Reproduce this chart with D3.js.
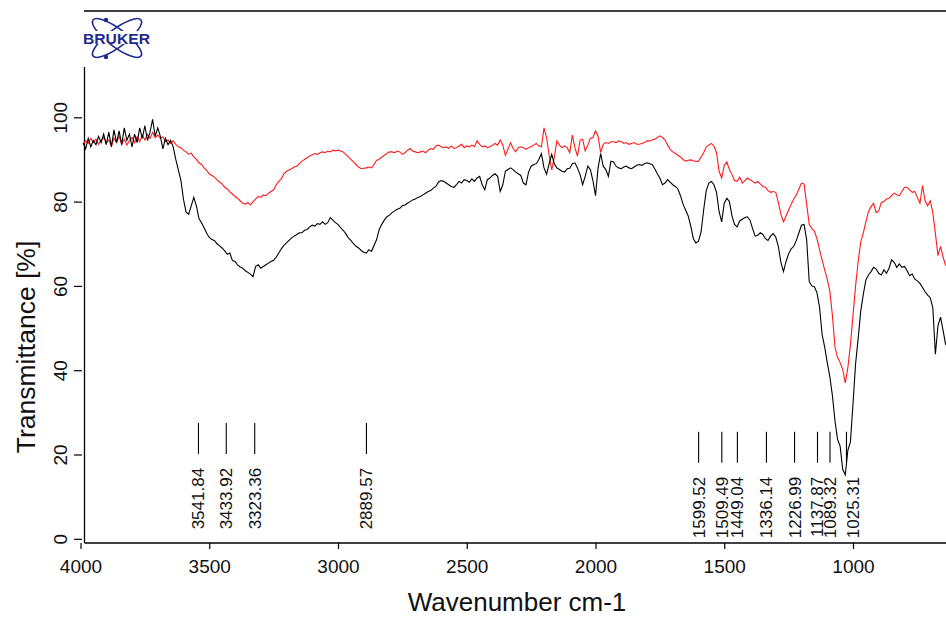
<!DOCTYPE html>
<html>
<head>
<meta charset="utf-8">
<script src="https://cdn.jsdelivr.net/npm/d3@7"></script>
<style>
  html, body { margin: 0; padding: 0; background: #fff; }
  svg { display: block; font-family: "Liberation Sans", Arial, sans-serif; }
</style>
</head>
<body>
<svg id="chart" width="946" height="618"></svg>
<script>
// ---------------- data ----------------
const wavenumbers = d3.range(3990, 635, -10); // sampling grid, cm-1

const blackT = [
  94, 92.5, 95, 93, 94.5, 93.5, 95.5, 94, 96, 93.5,
  96.5, 93, 97, 94, 96.8, 93.5, 97.5, 94.5, 96, 93,
  96, 94, 97.5, 95, 98, 94.5, 96.5, 99.5, 95.5, 97.5,
  95.5, 92.5, 95, 93.5, 94.5, 93, 90, 87.5, 85, 80.5,
  77.5, 77, 79, 81, 79, 76, 75, 73.8, 72.5, 71.5,
  71, 70.8, 70, 69.5, 69, 68.3, 67.5, 67.8, 66, 65.8,
  65, 64.5, 64.2, 63.6, 63.2, 62.8, 62.2, 64.6, 65, 64.2,
  64.6, 65, 65.4, 65.8, 66.1, 66.8, 67.8, 68.8, 69.6, 70.2,
  70.8, 71.4, 71.8, 72.2, 72.6, 72.6, 73.2, 73.4, 74, 74.4,
  74.2, 74.8, 74.6, 75.2, 74.6, 75, 76.2, 75.6, 75, 74.6,
  73.8, 73.2, 72.4, 71.4, 70.8, 70, 69.4, 69, 68.4, 68,
  67.8, 68.6, 68.2, 69.6, 71, 73.4, 74.6, 75.6, 76.4, 76.8,
  77.4, 77.8, 78.2, 78.4, 79, 79.2, 79.6, 80, 80.4, 80.6,
  81, 81.2, 81.6, 82, 82.4, 82.6, 83.2, 83.6, 84.6, 85,
  84.8, 84.4, 84, 83.6, 83.4, 84, 84.8, 84.4, 85.2, 85,
  84.6, 85.4, 84.8, 85.6, 86, 84, 82.8, 85.2, 85.6, 86.2,
  86.6, 86, 82.4, 84, 87.2, 87.6, 88, 87.6, 87, 86.6,
  86.2, 84.4, 84, 87, 88.4, 88.8, 89, 90, 91.4, 88,
  86.5, 89, 91.2, 89, 88, 87.6, 87.2, 87, 87.8, 87.9,
  89, 89.2, 88, 86.4, 84, 86, 88.4, 87.6, 85, 81.4,
  88, 91.4, 88.4, 87.6, 86, 89.6, 89.4, 88.4, 88, 87.8,
  88.2, 88.4, 88, 87.8, 88.2, 88.6, 88.8, 88.6, 89, 89.2,
  89, 88.8, 87.8, 86.6, 85.6, 84, 84.4, 85.2, 84.6, 84,
  83.6, 83, 81.4, 79.4, 78, 76.6, 74.2, 71.2, 70.2, 70.6,
  72.8, 78, 82.6, 84.4, 84.8, 84, 82.2, 77.6, 75.2, 79.6,
  80.8, 80, 76.6, 74.6, 74, 75.4, 75.8, 76.2, 76.4, 75.6,
  73.6, 71.8, 72, 72.6, 72.2, 71.2, 70.8, 71.8, 72.4, 71.6,
  69.4, 65.6, 63.4, 65.8, 67.6, 68.8, 69.4, 70.8, 72.6, 74.4,
  74.6, 71, 61, 60, 59.8, 58.4, 55, 48.5, 45.5, 41.8,
  38.5, 34, 28, 23.6, 22, 16.5, 15.2, 21, 23, 32,
  41.5, 47.5, 54, 58, 61.4, 62.6, 63.4, 64.4, 64, 63,
  62.6, 63.8, 63, 64.2, 66.2, 65.6, 64.4, 65.2, 64.4, 64.6,
  63.6, 62.4, 62.8, 61.6, 61.2, 60.6, 59.6, 58.6, 57.8, 57.2,
  54.8, 43.8, 50.6, 52.6, 49.4, 46
];

const redT = [
  93.5, 94.5, 93.8, 95, 94, 94.8, 93.6, 94.6, 95.2, 94,
  94.6, 93.2, 95, 94, 95.5, 93.6, 94.8, 93.4, 94.5, 95.2,
  94, 95.4, 94.2, 95.8, 94.6, 96, 95, 96.4, 95.2, 95.8,
  95, 95.4, 94.2, 94.6, 93.8, 94.4, 93.6, 93, 92.8, 92.2,
  91.8, 91.2, 91.5, 90.6, 90, 89.2, 88.8, 88, 87.4, 86.6,
  86.2, 85.8, 85.2, 84.6, 84.2, 83.4, 83, 82.3, 81.8, 81.2,
  80.8, 80.2, 79.6, 79.4, 79.8, 79.2, 80, 80.6, 81.2, 81,
  81.6, 81.4, 82, 82.4, 82.8, 84, 84.8, 85.4, 86.6, 87.2,
  87.5, 87.8, 88.2, 88.4, 89, 89.6, 90, 90.4, 90.8, 91.1,
  91.4, 91.2, 91.6, 91.8, 91.6, 92, 91.8, 92.2, 92, 92.2,
  92, 91.8, 91.2, 90.6, 90, 89.4, 88.8, 88.2, 87.8, 87.9,
  88, 88.2, 88, 88.8, 89.8, 90, 90.6, 91, 91.4, 91.8,
  91.8, 91.6, 92, 91.8, 91.2, 91.6, 92.2, 92.6, 92, 91.8,
  91.6, 91.8, 92, 91.6, 92.2, 92.6, 92.4, 93.2, 93.4, 93,
  92.8, 93, 92.6, 93.2, 92.6, 92.8, 93.2, 93.6, 92.8, 93.2,
  93, 93.4, 93, 94.4, 93.6, 93, 93.2, 92.8, 93, 93.4,
  93.8, 93.4, 94.6, 93.4, 91, 92.4, 94, 92.6, 91.8, 92.8,
  93, 92.8, 92.4, 92.8, 93, 93.4, 93.8, 93.2, 93, 97.5,
  95.2, 91, 87.5, 90.5, 94.4, 93.4, 92.8, 93.2, 92.8, 91.6,
  95.8, 92.8, 90.8, 94.6, 94.8, 92, 93.4, 95, 95.2, 96.8,
  95.5, 91.6, 93.6, 94, 93.8, 94.2, 94.2, 94, 94.4, 94.2,
  93.8, 94, 93.6, 93.8, 94, 93.6, 93.6, 93.8, 94, 94.4,
  94.4, 94.6, 94.8, 95.2, 95.6, 95.2, 94.6, 93.4, 92.4, 91.8,
  91.4, 91, 90.6, 90, 89.6, 89.8, 89.9, 89.7, 89.5, 89.6,
  90.6, 91.6, 93, 93.4, 93.8, 93.2, 91.6, 87.2, 85.6, 88.6,
  89.4, 87.6, 86.4, 85, 84.8, 85.8, 84.4, 85, 85.6, 85.2,
  84.8, 84.4, 84.8, 84.2, 83.6, 83.4, 82.6, 82.2, 82.4, 82.2,
  79.8, 77, 75.2, 76.6, 78, 79.4, 80.6, 81.6, 83, 84.4,
  84.2, 79.4, 74.6, 73.6, 73, 71.2, 68.6, 66.2, 63.8, 61.6,
  58.8, 53, 45.5, 43, 41.8, 40.2, 37, 40.6, 46, 53,
  60, 65.8, 70.4, 72.6, 75.2, 77.6, 78.8, 79.6, 77.4, 77.8,
  79.8, 80, 80.6, 80.8, 81.4, 82, 81.6, 81.4, 82.4, 83.4,
  83.4, 82.8, 82.2, 82.4, 81, 79.6, 83.8, 80.2, 79, 80.2,
  77.4, 72.4, 67.2, 69.4, 66.8, 64.8
];

const peakWavenumbers = [3541.84, 3433.92, 3323.36, 2889.57, 1599.52, 1509.49, 1449.04, 1336.14, 1226.99, 1137.87, 1089.32, 1025.31];
const peakLabels = ["3541.84", "3433.92", "3323.36", "2889.57", "1599.52", "1509.49", "1449.04", "1336.14", "1226.99", "1137.87", "1089.32", "1025.31"];
const peakMarkTop = [27.5, 27.5, 27.5, 27.5, 25.4, 25.4, 25.4, 25.4, 25.4, 25.4, 25.4, 25.4];

const xTicks = [4000, 3500, 3000, 2500, 2000, 1500, 1000];
const yTicks = [0, 20, 40, 60, 80, 100];

// ---------------- drawing ----------------
const svg = d3.select("#chart");
const W = 946;

const x = d3.scaleLinear().domain([4000, 1000]).range([80.5, 853]);
const y = d3.scaleLinear().domain([0, 100]).range([538.8, 117.3]);

const axisY0 = 543;   // x-axis line position
const axisX0 = 84.5;  // y-axis line position

// frame lines
svg.append("line").attr("x1", 84).attr("x2", W).attr("y1", 11).attr("y2", 11)
  .attr("stroke", "#000").attr("stroke-width", 1.3);
svg.append("line").attr("x1", axisX0).attr("x2", axisX0).attr("y1", 67).attr("y2", axisY0)
  .attr("stroke", "#000").attr("stroke-width", 1.3);
svg.append("line").attr("x1", axisX0).attr("x2", W).attr("y1", axisY0).attr("y2", axisY0)
  .attr("stroke", "#000").attr("stroke-width", 1.3);

// x axis
const gx = svg.append("g").attr("transform", `translate(0,${axisY0})`)
  .call(d3.axisBottom(x).tickValues(xTicks).tickSize(6).tickFormat(d3.format("d")));
gx.select(".domain").remove();
gx.selectAll(".tick line").attr("stroke", "#000").attr("stroke-width", 1.2);
gx.selectAll(".tick text").attr("y", 30).attr("dy", null)
  .style("font-size", "19px").style("font-family", '"Liberation Sans", Arial, sans-serif').attr("fill", "#111");

// y axis
const gy = svg.append("g").attr("transform", `translate(82,0)`)
  .call(d3.axisLeft(y).tickValues(yTicks).tickSize(8));
gy.select(".domain").remove();
gy.selectAll(".tick line").attr("stroke", "#000").attr("stroke-width", 1.2);
gy.selectAll(".tick text")
  .attr("transform", "rotate(-90)")
  .attr("x", 0).attr("y", -15).attr("dy", null)
  .attr("text-anchor", "middle")
  .style("font-size", "19px").style("font-family", '"Liberation Sans", Arial, sans-serif').attr("fill", "#111");

// axis titles
svg.append("text").attr("x", 517).attr("y", 611).attr("text-anchor", "middle")
  .style("font-size", "26px").attr("fill", "#111").text("Wavenumber cm-1");
svg.append("text").attr("transform", "translate(35,347) rotate(-90)").attr("text-anchor", "middle")
  .style("font-size", "26.5px").attr("fill", "#111").text("Transmittance [%]");

// spectra
const clip = svg.append("clipPath").attr("id", "plotclip").append("rect")
  .attr("x", 82).attr("y", 60).attr("width", W - 82).attr("height", 490);

const line = d3.line().x(d => x(d[0])).y(d => y(d[1]));
const blackData = wavenumbers.map((w, i) => [w, blackT[i]]);
const redData = wavenumbers.map((w, i) => [w, redT[i]]);

svg.append("path").datum(redData).attr("d", line).attr("fill", "none")
  .attr("stroke", "#ff1a1a").attr("stroke-width", 1.1).attr("clip-path", "url(#plotclip)");
svg.append("path").datum(blackData).attr("d", line).attr("fill", "none")
  .attr("stroke", "#000").attr("stroke-width", 1.1).attr("clip-path", "url(#plotclip)");

// peak markers
const markLen = 31; // px
const labelShift = { "1025.31": 7 };
peakWavenumbers.forEach((w, i) => {
  const px = x(w);
  const top = y(peakMarkTop[i]);
  svg.append("line").attr("x1", px).attr("x2", px).attr("y1", top).attr("y2", top + markLen)
    .attr("stroke", "#000").attr("stroke-width", 1.1);
  const lx = px + 6 + (labelShift[peakLabels[i]] || 0);
  const ly = top + markLen + 14;
  svg.append("text")
    .attr("transform", `translate(${lx},${ly}) rotate(-90)`)
    .attr("text-anchor", "end")
    .style("font-size", "17px").attr("fill", "#111")
    .text(peakLabels[i]);
});

// Bruker logo
const logo = svg.append("g").attr("transform", "translate(117,38)");
const navy = "#1f2a8f";
[-37, 37].forEach(a => {
  logo.append("ellipse").attr("cx", 0).attr("cy", 0).attr("rx", 30).attr("ry", 9)
    .attr("transform", `rotate(${a})`).attr("fill", "none").attr("stroke", navy).attr("stroke-width", 1.6);
});
logo.append("circle").attr("cx", -11).attr("cy", -18).attr("r", 2.2).attr("fill", navy);
logo.append("circle").attr("cx", -11).attr("cy", 19).attr("r", 2.2).attr("fill", navy);
logo.append("rect").attr("x", -34).attr("y", -7).attr("width", 68).attr("height", 13).attr("fill", "#fff");
logo.append("text").attr("x", -34).attr("y", 5.5)
  .attr("textLength", 67).attr("lengthAdjust", "spacingAndGlyphs")
  .style("font-size", "14.5px").style("font-weight", "bold").attr("fill", navy)
  .text("BRUKER");
</script>
</body>
</html>
